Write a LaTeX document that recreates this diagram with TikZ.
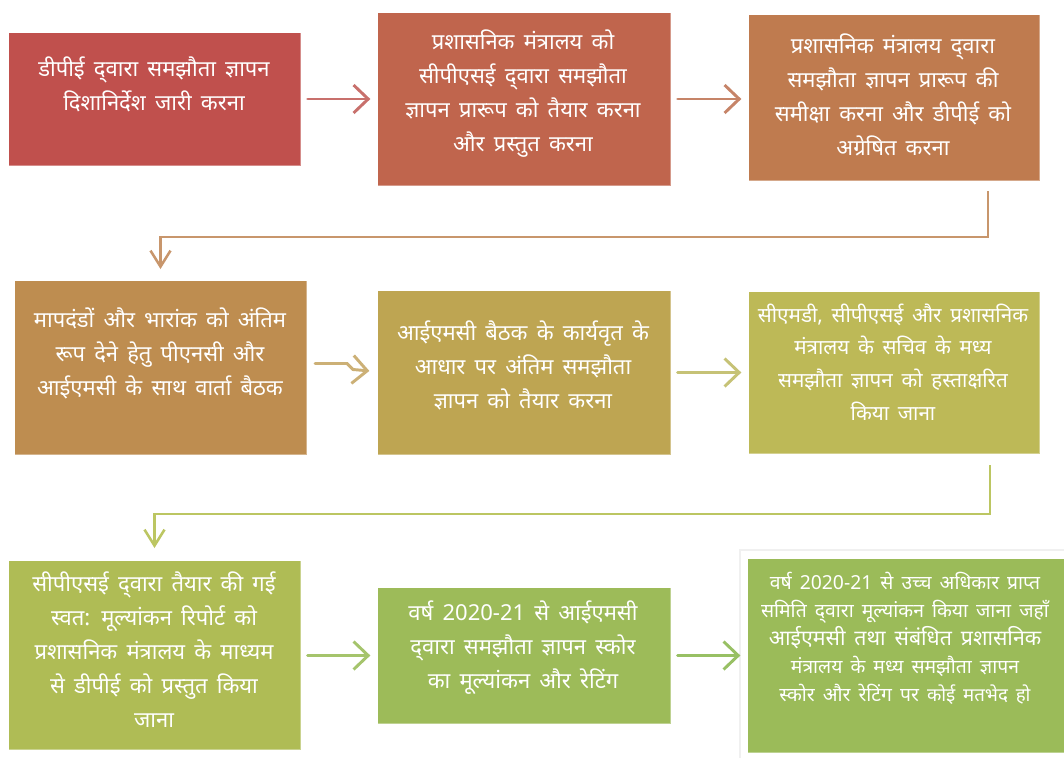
\documentclass[tikz,border=0pt]{standalone}
\usepackage{fontspec}
\setmainfont{Noto Sans}[Script=Devanagari, WordSpace=1.6]
\usetikzlibrary{arrows.meta,calc}
\definecolor{c1}{RGB}{192,80,77}
\definecolor{c2}{RGB}{192,101,77}
\definecolor{c3}{RGB}{191,123,79}
\definecolor{c4}{RGB}{190,141,80}
\definecolor{c5}{RGB}{190,165,82}
\definecolor{c6}{RGB}{189,185,87}
\definecolor{c7}{RGB}{175,188,85}
\definecolor{c8}{RGB}{157,187,89}
\definecolor{c9}{RGB}{155,187,89}
\definecolor{a1}{RGB}{200,112,108}
\definecolor{a2}{RGB}{198,132,104}
\definecolor{a3}{RGB}{200,150,108}
\definecolor{a4}{RGB}{204,176,118}
\definecolor{a5}{RGB}{198,194,118}
\definecolor{a6}{RGB}{188,198,98}
\definecolor{a7}{RGB}{165,196,108}
\definecolor{a8}{RGB}{152,192,100}
\begin{document}
\begin{tikzpicture}[x=0.75pt,y=-0.75pt,
  box/.style={rectangle, anchor=north west, inner sep=0pt, draw=white, draw opacity=0.35, line width=0.75pt},
  txt/.style={text=white, align=center, inner sep=0pt, font=\fontsize{16.5}{25.5}\selectfont},
  arr/.style={line width=2.2pt, line cap=round, -{Straight Barb[length=11pt,width=21pt,line width=2.2pt]}, shorten <=5pt, shorten >=5pt},
  conn/.style={line width=1.9pt, -{Straight Barb[length=12pt,width=15pt,line width=1.9pt]}}
]
\useasboundingbox (0,0) rectangle (1064,758);
\fill[white] (0,0) rectangle (1064,758);
% soft frame behind the last box
\fill[black!6] (739,549) rectangle (1064,758);
\fill[white] (741,551) rectangle (1064,758);

\node[box, fill=c1, minimum width=219pt, minimum height=99.75pt] (b1) at (8,32) {};
\node[box, fill=c2, minimum width=219.75pt, minimum height=129.75pt] (b2) at (377,12) {};
\node[box, fill=c3, minimum width=218.25pt, minimum height=124.5pt] (b3) at (748,14) {};
\node[box, fill=c4, minimum width=219pt, minimum height=130.5pt] (b4) at (14,280) {};
\node[box, fill=c5, minimum width=219.75pt, minimum height=123pt] (b5) at (377,290) {};
\node[box, fill=c6, minimum width=218.25pt, minimum height=121.5pt] (b6) at (748,291) {};
\node[box, fill=c7, minimum width=219pt, minimum height=141.75pt] (b7) at (8,560) {};
\node[box, fill=c8, minimum width=219.75pt, minimum height=102pt] (b8) at (377,587) {};
\node[box, fill=c9, minimum width=237.75pt, minimum height=145.5pt] (b9) at (747,558) {};

\node[txt] (t1) at (154,84) {डीपीई द्^^^^200cवारा समझौता ज्ञापन\\दिशानिर्देश जारी करना};
\node[txt] (t2) at (523,94) {प्रशासनिक मंत्रालय को\\सीपीएसई द्^^^^200cवारा समझौता\\ज्ञापन प्रारूप को तैयार करना\\और प्रस्तुत करना};
\node[txt] (t3) at (893,95) {प्रशासनिक मंत्रालय द्^^^^200cवारा\\समझौता ज्ञापन प्रारूप की\\समीक्षा करना और डीपीई को\\अग्रेषित करना};
\node[txt] (t4) at (160,353) {मापदंडों और भारांक को अंतिम\\रूप देने हेतु पीएनसी और\\आईएमसी के साथ वार्ता बैठक};
\node[txt] (t5) at (523,365) {आईएमसी बैठक के कार्यवृत के\\आधार पर अंतिम समझौता\\ज्ञापन को तैयार करना};
\node[txt, font=\fontsize{15.5}{24.5}\selectfont] (t6) at (893,362) {सीएमडी, सीपीएसई और प्रशासनिक\\मंत्रालय के सचिव के मध्य\\समझौता ज्ञापन को हस्ताक्षरित\\किया जाना};
\node[txt] (t7) at (154,650) {सीपीएसई द्^^^^200cवारा तैयार की गई\\स्वत: मूल्यांकन रिपोर्ट को\\प्रशासनिक मंत्रालय के माध्यम\\से डीपीई को प्रस्तुत किया\\जाना};
\node[txt] (t8) at (523,648) {वर्ष 2020-21 से आईएमसी\\द्^^^^200cवारा समझौता ज्ञापन स्कोर\\का मूल्यांकन और रेटिंग};
\node[txt, font=\fontsize{14.5}{21}\selectfont] (t9) at (905,638) {वर्ष 2020-21 से उच्च अधिकार प्राप्त\\समिति द्^^^^200cवारा मूल्यांकन किया जाना जहाँ\\\fontsize{16}{22}\selectfont आईएमसी तथा संबंधित प्रशासनिक\\मंत्रालय के मध्य समझौता ज्ञापन\\स्कोर और रेटिंग पर {\fontsize{14}{22}\selectfont कोई मतभेद हो}};

% arrows within rows
\draw[arr, a1] (b1.east) -- (b2.west |- b1.east);
\draw[arr, a2] (b2.east) -- (b3.west |- b2.east);
\draw[arr, a4, shorten <=0pt] ($(b4.east)+(8,-4)$) -- ++(32,0) -- ++(6,6) -- ($(b5.west)+(-1,-1)$);
\draw[arr, a5] (b5.east) -- (b6.west);
\draw[arr, a7] (b7.east |- b8.west) -- (b8.west);
\draw[arr, a8] (b8.east) -- (b9.west |- b8.east);

% connectors between rows
\draw[conn, a3] ($(b3.south east)+(-52,10)$) -- ++(0,46) -| ($(b4.north)+(0,-11)$);
\draw[conn, a6] ($(b6.south east)+(-50,11)$) -- ++(0,49) -| ($(b7.north)+(0,-12)$);
\end{tikzpicture}
\end{document}
